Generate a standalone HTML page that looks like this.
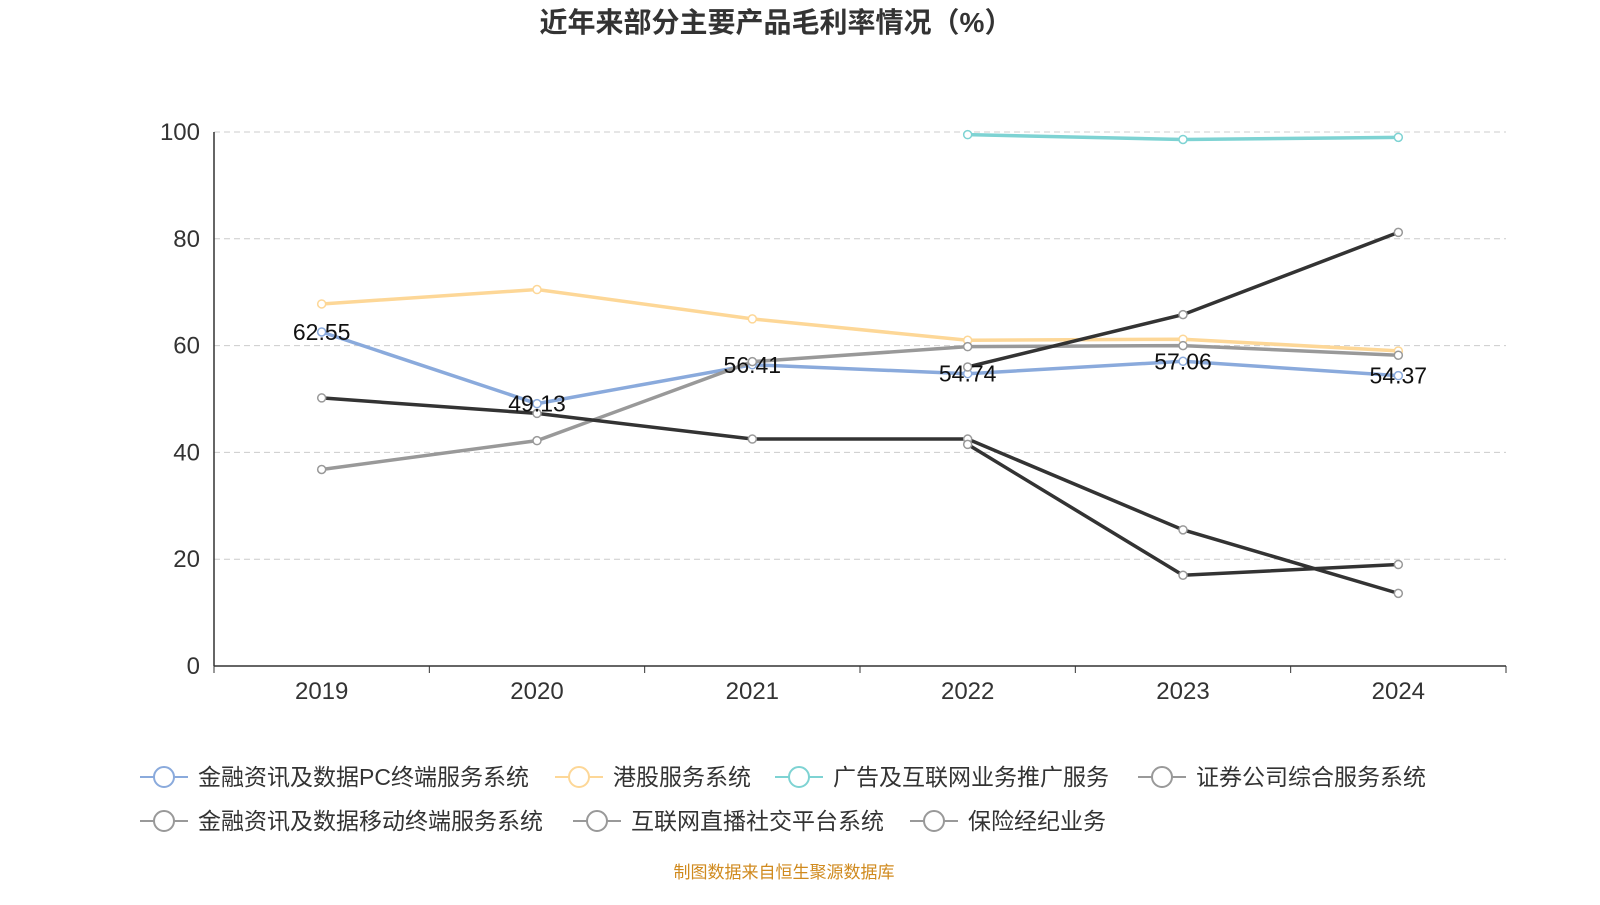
<!DOCTYPE html>
<html><head><meta charset="utf-8"><style>
body{margin:0;background:#fff;font-family:"Liberation Sans","Noto Sans CJK SC",sans-serif;}
svg text{font-family:"Liberation Sans","Noto Sans CJK SC",sans-serif;}
</style></head><body>
<svg id="c" width="1600" height="900">
<text x="776" y="32" text-anchor="middle" font-size="28" font-weight="bold" fill="#333">近年来部分主要产品毛利率情况（%）</text>
<g id="grid"></g><g id="axes"></g><g id="lines"></g><g id="legend"></g>
<text x="784" y="878" text-anchor="middle" font-size="17" fill="#d08a1e">制图数据来自恒生聚源数据库</text>
</svg>
<script>
const years=["2019","2020","2021","2022","2023","2024"];
const yTicks=[0,20,40,60,80,100];
const seriesNames=["金融资讯及数据PC终端服务系统","港股服务系统","广告及互联网业务推广服务","证券公司综合服务系统","金融资讯及数据移动终端服务系统","互联网直播社交平台系统","保险经纪业务"];
const s1=[62.55,49.13,56.41,54.74,57.06,54.37];
const s2=[67.8,70.5,65.0,61.0,61.2,59.0];
const s3=[null,null,null,99.5,98.6,99.0];
const s4=[36.8,42.2,57.0,59.8,60.0,58.2];
const s5=[50.2,47.3,42.5,42.5,25.5,13.6];
const s6=[null,null,null,41.5,17.0,19.0];
const s7=[null,null,null,56.0,65.8,81.2];
const allSeries=[s1,s2,s3,s4,s5,s6,s7];
const colors=["#8aaadc","#fdd797","#7ed3d3","#999","#333","#333","#333"];
const legendColors=["#8aaadc","#fdd797","#7ed3d3","#999","#999","#999","#999"];
const NS="http://www.w3.org/2000/svg";
const X0=214,X1=1506,Y0=666,Y1=132;
const step=(X1-X0)/years.length;
const xs=i=>X0+step*(i+0.5);
const ys=v=>Y0-(v/100)*(Y0-Y1);
function mk(t,a,p){const e=document.createElementNS(NS,t);for(const k in a)e.setAttribute(k,a[k]);p.appendChild(e);return e;}
const grid=document.getElementById('grid'),axes=document.getElementById('axes'),lines=document.getElementById('lines'),leg=document.getElementById('legend');
yTicks.forEach(v=>{
 if(v>0){const l=mk('line',{x1:X0,x2:X1,y1:ys(v),y2:ys(v),stroke:'#ccc','stroke-dasharray':'6,4'},grid);
 
 }
 const t=mk('text',{x:X0-14,y:ys(v)+8,'text-anchor':'end','font-size':24,fill:'#333'},axes);t.textContent=v;
 
 
});
mk('line',{x1:X0,x2:X0,y1:Y1,y2:Y0,stroke:'#333','stroke-width':1.5},axes);
mk('line',{x1:X0,x2:X1,y1:Y0,y2:Y0,stroke:'#333','stroke-width':1.5},axes);
for(let i=0;i<=years.length;i++)mk('line',{x1:X0+step*i,x2:X0+step*i,y1:Y0,y2:Y0+7,stroke:'#333'},axes);
years.forEach((y,i)=>{const t=mk('text',{x:xs(i),y:Y0+33,'text-anchor':'middle','font-size':24,fill:'#333'},axes);t.textContent=y;
 
 });
allSeries.forEach((s,si)=>{
 const g=mk('g',{},lines);
 
 
 const pts=[];s.forEach((v,i)=>{if(v!=null)pts.push([xs(i),ys(v)]);});
 mk('polyline',{points:pts.map(p=>p.join(',')).join(' '),fill:'none',stroke:colors[si],'stroke-width':3.5},g);
 pts.forEach(p=>{const c=mk('circle',{cx:p[0],cy:p[1],r:4,fill:'#fff',stroke:si<3?colors[si]:'#999','stroke-width':1.5},g);
  
  });
});
s1.forEach((v,i)=>{const t=mk('text',{x:xs(i),y:ys(v)+8,'text-anchor':'middle','font-size':23,fill:'#111'},lines);t.textContent=v.toFixed(2);
 
 });
const legPos=[[140,777],[555,777],[775,777],[1138,777],[140,821],[573,821],[910,821]];
seriesNames.forEach((n,i)=>{
 const g=mk('g',{},leg);
 
 
 const [x,y]=legPos[i];
 mk('line',{x1:x,x2:x+48,y1:y,y2:y,stroke:legendColors[i],'stroke-width':2},g);
 mk('circle',{cx:x+24,cy:y,r:10,fill:'#fff',stroke:legendColors[i],'stroke-width':2},g);
 const t=mk('text',{x:x+58,y:y+8,'font-size':23,fill:'#333'},g);t.textContent=n;
});
</script>
</body></html>
